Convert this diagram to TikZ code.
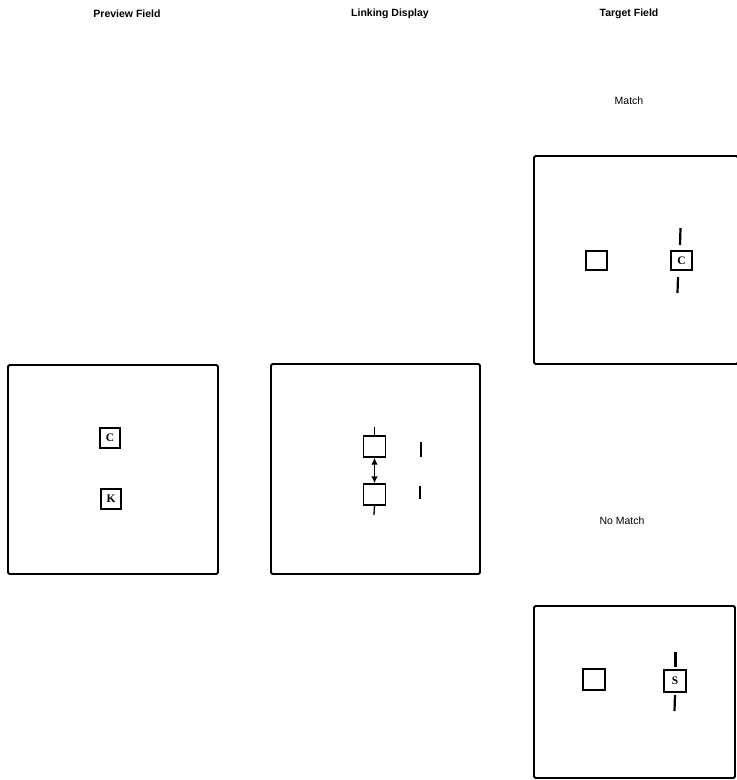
\documentclass[tikz,border=0pt]{standalone}
\usepackage{fontspec}
\setsansfont{Liberation Sans}
\setmainfont{Liberation Serif}
\usetikzlibrary{arrows.meta}
\begin{document}
\begin{tikzpicture}[x=1pt,y=-1pt,
  field/.style={draw,line width=1.8pt,rounded corners=1.5pt,inner sep=0pt},
  title/.style={font=\sffamily\bfseries\fontsize{10.5}{12}\selectfont,inner sep=0pt},
  caption/.style={font=\sffamily\fontsize{10.5}{12}\selectfont,inner sep=0pt},
  item/.style={draw,line width=1.1pt,minimum width=20pt,minimum height=20pt,inner sep=0pt,font=\rmfamily\bfseries\fontsize{11.5}{12}\selectfont},
  tick/.style={line width=2.2pt},
  thintick/.style={line width=1.3pt}]
\useasboundingbox (0,0) rectangle (737,780);
% titles
\node[title] (tp) at (127,14) {Preview Field};
\node[title] (tl) at (390,14) {Linking Display};
\node[title] (tt) at (629,14) {Target Field};
\node[caption] (cm) at (629,101) {Match};
\node[caption] (cn) at (622,521) {No Match};
% fields
\node[field,minimum width=210pt,minimum height=209pt] (pf) at (113,469.5) {};
\node[field,minimum width=209pt,minimum height=210pt] (lf) at (375.5,469) {};
\node[field,minimum width=204pt,minimum height=208pt] (mf) at (636,260) {};
\node[field,minimum width=201pt,minimum height=172pt] (nf) at (634.5,692) {};
% preview items
\node[item] (pc) at (110,438) {C};
\node[item] (pk) at (111,499) {K};
% linking items
\node[item,minimum width=22pt,minimum height=21pt] (lu) at (374.5,446.5) {};
\node[item,minimum width=22pt,minimum height=21pt] (ll) at (374.5,494.5) {};
\coordinate (lua) at (374.5,427);
\coordinate (llb) at (374,515);
\draw[thintick] (lua) -- (lu.north);
\draw[thintick] (ll.south) -- (llb);
\draw[line width=1.8pt,{Latex[length=7pt,width=6.5pt]}-{Latex[length=7pt,width=6.5pt]}] (lu.south) -- (ll.north);
\coordinate (r1a) at (421,442); \coordinate (r1b) at (421,457);
\coordinate (r2a) at (420,486); \coordinate (r2b) at (420,499);
\draw[tick] (r1a) -- (r1b);
\draw[tick] (r2a) -- (r2b);
% match items
\node[item,minimum width=21pt,minimum height=19pt] (me) at (596.5,260.5) {};
\node[item,minimum width=21pt,minimum height=19pt] (mc) at (681.5,260.5) {C};
\coordinate (mca) at (680.5,228); \coordinate (mcb) at (680,245);
\coordinate (mcc) at (678,277); \coordinate (mcd) at (677.5,293);
\draw[tick] (mca) -- (mcb);
\draw[tick] (mcc) -- (mcd);
% no match items
\node[item,minimum width=22pt,minimum height=21pt] (ne) at (594,679.5) {};
\node[item,minimum width=22pt,minimum height=22pt] (ns) at (675,681) {S};
\coordinate (nsa) at (675.5,652); \coordinate (nsb) at (675.5,667);
\coordinate (nsc) at (675,695); \coordinate (nsd) at (674.5,711);
\draw[tick] (nsa) -- (nsb);
\draw[tick] (nsc) -- (nsd);
\end{tikzpicture}
\end{document}
